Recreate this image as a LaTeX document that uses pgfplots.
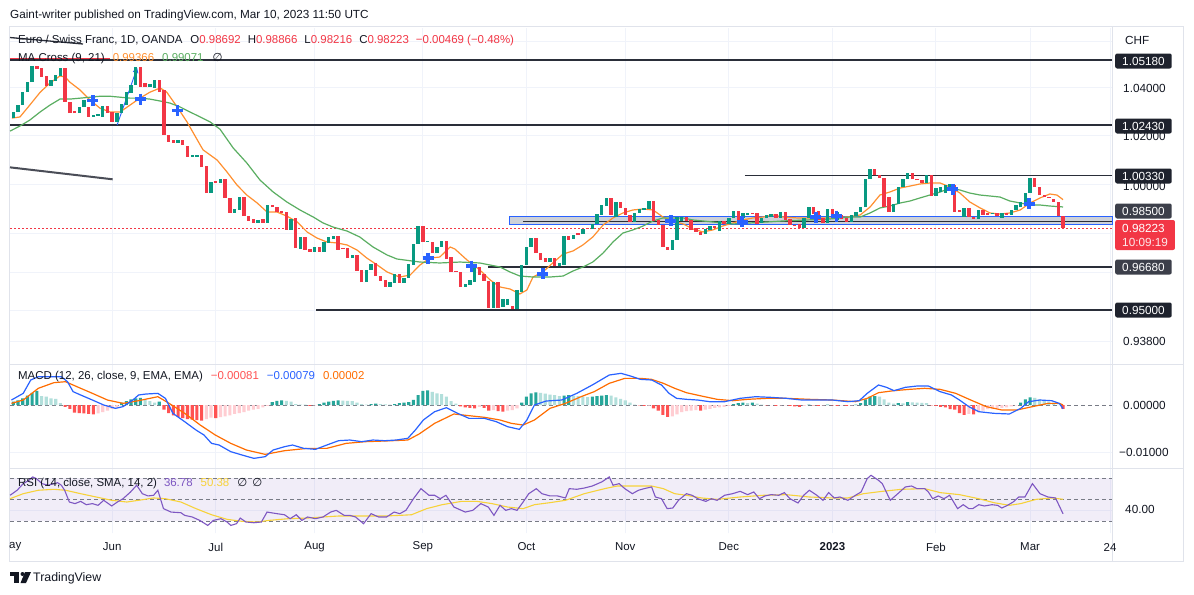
\documentclass[border=0pt]{standalone}
\usepackage{pgfplots}
\pgfplotsset{compat=1.18}
\usepackage{pgfplotstable}
\usepackage{fontspec}
\setmainfont{Liberation Sans}
\newfontfamily\dejavu{DejaVu Sans}
\usetikzlibrary{arrows.meta}
\definecolor{tvgreen}{HTML}{089981}
\definecolor{tvred}{HTML}{F23645}
\definecolor{tvblue}{HTML}{2962FF}
\definecolor{maor}{HTML}{FF9030}
\definecolor{magr}{HTML}{5AAE61}
\definecolor{txt}{HTML}{131722}
\definecolor{gridc}{HTML}{F0F3FA}
\definecolor{border}{HTML}{E0E3EB}
\definecolor{lblA}{HTML}{1E222D}
\definecolor{lblB}{HTML}{3C3F4A}
\definecolor{sig}{HTML}{FF6D00}
\definecolor{hdg}{HTML}{26A69A}
\definecolor{hlg}{HTML}{B2DFDB}
\definecolor{hdr}{HTML}{FF5252}
\definecolor{hlr}{HTML}{FFCDD2}
\definecolor{rsic}{HTML}{7E57C2}
\definecolor{rsima}{HTML}{F7D23A}
\definecolor{dashc}{HTML}{787B86}
\definecolor{zone}{HTML}{CDD1D8}
\definecolor{hlc}{HTML}{2A2E39}
\newcommand\fs{\fontsize{11.5}{13}\selectfont}
\newcommand\fb{\fontsize{11.8}{14}\selectfont}

\pgfplotstableread{
i o c
-21 1.0272 1.0298
-20 1.0298 1.0327
-19 1.0327 1.0381
-18 1.0381 1.0424
-17 1.0424 1.0492
-13 1.0407 1.0433
-12 1.0429 1.0454
-11 1.0450 1.0484
-7 1.0293 1.0319
-6 1.0319 1.0348
-4 1.0277 1.0285
-3 1.0281 1.0289
-2 1.0277 1.0323
1 1.0256 1.0293
2 1.0293 1.0331
3 1.0327 1.0381
4 1.0377 1.0411
5 1.0411 1.0488
8 1.0403 1.0416
9 1.0399 1.0433
14 1.0169 1.0181
17 1.0111 1.0119
18 1.0111 1.0119
21 0.99635 1.0008
23 1.0004 1.0020
26 0.98827 0.98988
27 0.98948 0.99474
31 0.98426 0.98546
33 0.98426 0.99150
38 0.98145 0.98586
40 0.97390 0.97866
43 0.97271 0.97469
45 0.97271 0.97668
46 0.97628 0.97866
47 0.97787 0.97906
51 0.97032 0.97151
54 0.96089 0.96560
55 0.96560 0.96796
59 0.95894 0.96089
60 0.96050 0.96403
62 0.96050 0.96246
63 0.96246 0.96796
64 0.96757 0.97588
65 0.97588 0.98305
67 0.97668 0.97707
69 0.97231 0.97469
70 0.97469 0.97707
75 0.95894 0.96011
76 0.95972 0.96167
77 0.96089 0.96678
81 0.95078 0.96089
83 0.95116 0.95427
84 0.95194 0.95427
86 0.95039 0.95777
87 0.95699 0.96757
88 0.96757 0.97469
89 0.97469 0.97827
93 0.96874 0.97032
95 0.96717 0.96835
96 0.96757 0.97906
98 0.97787 0.97946
100 0.97986 0.98185
102 0.98185 0.98386
103 0.98386 0.98787
104 0.98747 0.99150
105 0.99110 0.99433
107 0.98667 0.99271
111 0.98466 0.98827
112 0.98827 0.98988
113 0.98948 0.99029
114 0.98988 0.99312
119 0.97350 0.97747
120 0.97747 0.98667
121 0.98506 0.98667
126 0.97986 0.98185
127 0.98145 0.98305
129 0.98105 0.98506
131 0.98386 0.98626
132 0.98626 0.98908
134 0.98626 0.98827
135 0.98747 0.98827
138 0.98426 0.98626
139 0.98626 0.98747
140 0.98667 0.98787
142 0.98626 0.98867
147 0.98225 0.98626
148 0.98626 0.99069
152 0.98426 0.98988
154 0.98546 0.98867
157 0.98466 0.98747
158 0.98707 0.98867
159 0.98867 0.99069
160 0.99069 1.0020
161 1.0020 1.0061
166 0.98867 0.99190
167 0.99190 0.99879
168 0.99879 1.0020
169 1.0020 1.0045
173 1.0004 1.0036
175 0.99514 0.99838
176 0.99676 0.99879
177 0.99635 0.99960
178 0.99757 1.0000
181 0.98667 0.99029
184 0.98586 0.98948
187 0.98787 0.98827
189 0.98626 0.98827
191 0.98747 0.98948
192 0.98948 0.99150
193 0.99069 0.99271
194 0.99231 0.99635
195 0.99635 1.0024
}\candup

\pgfplotstableread{
i o c
-16 1.0492 1.0479
-15 1.0484 1.0446
-14 1.0450 1.0407
-10 1.0484 1.0340
-9 1.0340 1.0293
-8 1.0302 1.0293
-5 1.0319 1.0277
-1 1.0323 1.0293
0 1.0298 1.0256
6 1.0488 1.0403
7 1.0420 1.0403
10 1.0433 1.0381
11 1.0390 1.0201
12 1.0201 1.0173
13 1.0181 1.0169
15 1.0181 1.0160
16 1.0156 1.0111
19 1.0119 1.0069
20 1.0073 0.99635
22 1.0012 1.0004
24 1.0020 0.99433
25 0.99433 0.98827
28 0.99474 0.98707
29 0.98707 0.98506
30 0.98586 0.98426
32 0.98586 0.98426
34 0.99150 0.99069
35 0.99069 0.98867
36 0.98908 0.98827
37 0.98867 0.98145
39 0.98626 0.97429
41 0.97866 0.97350
42 0.97390 0.97271
44 0.97469 0.97271
48 0.97906 0.97350
49 0.97429 0.97390
50 0.97429 0.97032
52 0.97151 0.96521
53 0.96560 0.96089
56 0.96835 0.96324
57 0.96324 0.96128
58 0.96167 0.95894
61 0.96403 0.96050
66 0.98305 0.97668
68 0.97668 0.97231
71 0.97707 0.96993
72 0.97072 0.96482
73 0.96521 0.96482
74 0.96482 0.95894
78 0.96678 0.96364
79 0.96403 0.96128
80 0.96128 0.95078
82 0.96089 0.95078
85 0.95155 0.95039
90 0.97827 0.97231
91 0.97231 0.96953
92 0.97032 0.96874
94 0.97032 0.96717
97 0.97906 0.97747
99 0.98025 0.97946
101 0.98225 0.98185
106 0.99433 0.98747
108 0.99271 0.99029
109 0.99029 0.98747
110 0.98747 0.98466
115 0.99312 0.98506
116 0.98546 0.98345
117 0.98345 0.97469
118 0.97469 0.97350
122 0.98667 0.98506
123 0.98546 0.98145
124 0.98225 0.98066
125 0.98066 0.97946
128 0.98305 0.98225
130 0.98506 0.98386
133 0.98908 0.98466
136 0.98827 0.98787
137 0.98827 0.98386
141 0.98787 0.98626
143 0.98867 0.98546
144 0.98586 0.98345
145 0.98345 0.98305
146 0.98386 0.98225
149 0.99069 0.98787
150 0.98908 0.98546
151 0.98626 0.98426
153 0.98988 0.98667
155 0.98747 0.98586
156 0.98626 0.98466
162 1.0061 1.0036
163 1.0036 1.0024
164 1.0024 0.99069
165 0.99474 0.98867
170 1.0045 1.0020
171 1.0020 1.0016
172 1.0016 1.0004
174 1.0036 0.99514
179 0.99960 0.98867
180 0.98948 0.98867
182 0.99029 0.98667
183 0.98667 0.98586
185 0.98948 0.98747
186 0.98827 0.98747
188 0.98827 0.98707
190 0.98827 0.98747
196 1.0024 0.99879
197 0.99879 0.99554
198 0.99554 0.99474
199 0.99474 0.99433
200 0.99393 0.99271
201 0.99271 0.98707
202 0.98692 0.98223
}\canddn

\pgfplotsset{tvpane/.style={scale only axis, width=1102bp, xmin=-21.71, xmax=212.41,
  axis line style={draw=none}, major tick length=0pt, minor tick length=0pt,
  xtick={0,22,43,66,88,109,131,153,175,195,212}, xticklabels={}, yticklabels={},
  xmajorgrids, ymajorgrids, grid style={draw=gridc, line width=0.9bp},
  clip=false, anchor=north west},
  candle/.style={draw=none, mark=none, forget plot,
  error bars/.cd, y dir=plus, y explicit, error mark=none,
  error mark options={draw=none, fill=none, mark size=0pt},
  error bar style={draw=#1, line width=3.4bp}}}
\tikzset{hl/.style={draw=hlc, line width=1.2bp},
  pbox/.style={anchor=west, fill=#1, text=white, rounded corners=2bp, inner xsep=7bp, inner ysep=0pt, minimum height=15bp, font=\fb},
  ptxt/.style={anchor=west, inner sep=0pt, text=txt, font=\fb}}

\begin{document}
\begin{tikzpicture}
\fill[white] (0,0) rectangle (1194bp,-595bp);
\path[use as bounding box] (0,0) rectangle (1194bp,-595bp);
\draw[border, line width=1bp] (9bp,-26.5bp) rectangle (1183.5bp,-561bp);
\draw[border, line width=1bp] (9bp,-364.5bp) -- (1183.5bp,-364.5bp);
\draw[border, line width=1bp] (9bp,-468.5bp) -- (1183.5bp,-468.5bp);
\draw[border, line width=1bp] (1112bp,-26.5bp) -- (1112bp,-561bp);

% ---------------- price pane
\begin{axis}[tvpane, at={(10bp,-28bp)}, height=336bp, ymode=log, ymin=0.92934, ymax=1.0656,
  ytick={0.938,0.95,0.9645,0.98,1.00,1.02,1.04,1.06}]
\addplot[fill=zone, draw=tvblue, line width=0.9bp] coordinates {(84.5,0.98385) (212.41,0.98385) (212.41,0.98707) (84.5,0.98707)} -- cycle;
\addplot[tvred, dash pattern=on 1.5bp off 2.5bp, line width=1.1bp] coordinates {(-21.71,0.98223) (212.41,0.98223)};
\addplot[hl] coordinates {(-21.71,1.0518) (212.41,1.0518)};
\addplot[hl] coordinates {(-21.71,1.0243) (212.41,1.0243)};
\addplot[hl] coordinates {(134.4,1.0033) (212.41,1.0033)};
\addplot[hl] coordinates {(87.3,0.985) (212.41,0.985)};
\addplot[hl] coordinates {(79.8,0.9668) (212.41,0.9668)};
\addplot[hl] coordinates {(43.3,0.95) (212.41,0.95)};
\addplot[draw=hlc!85, line width=2bp] coordinates {(-21.71,1.0068) (0.1,1.0019)};
\addplot[draw=hlc, line width=1.3bp] coordinates {(-21.71,1.0615) (-6.2,1.0587)};
\addplot[tvred, line width=1bp] coordinates {(-21.71,1.0524) (-0.5,1.0524)};
\draw[tvblue, line width=0.9bp, -{Straight Barb[length=4bp,width=5bp]}] (axis cs:1.04,1.0243) -- (axis cs:5.3,1.0484);
% MA 9
\addplot[maor, line width=1.2bp, mark=none] coordinates {(-21.3,1.0272)(-19.6,1.0277)(-17.5,1.0327)(-15.3,1.0381)(-13.2,1.0420)(-11.1,1.0450)(-10.0,1.0446)(-9.0,1.0424)(-6.8,1.0390)(-4.7,1.0348)(-2.6,1.0314)(-0.5,1.0298)(1.7,1.0298)(3.8,1.0327)(5.9,1.0356)(8.0,1.0381)(10.2,1.0399)(11.6,1.0381)(13.8,1.0319)(15.9,1.0256)(18.7,1.0160)(19.3,1.0140)(22.3,1.0098)(24.4,1.0049)(26.5,0.99960)(28.6,0.99554)(30.8,0.99231)(32.9,0.98867)(35.0,0.98867)(37.1,0.98707)(39.3,0.98466)(41.4,0.98066)(43.5,0.97827)(45.6,0.97668)(47.8,0.97628)(49.9,0.97549)(52.0,0.97350)(54.1,0.97032)(56.3,0.96757)(58.4,0.96482)(60.5,0.96324)(61.1,0.96285)(63.3,0.96364)(65.4,0.96757)(67.5,0.97032)(69.6,0.97072)(71.8,0.97469)(72.8,0.97390)(75.4,0.96953)(78.1,0.96560)(80.3,0.96167)(82.4,0.95894)(84.5,0.95816)(86.6,0.95621)(88.1,0.95777)(89.4,0.96285)(91.5,0.96482)(93.6,0.96835)(95.8,0.97191)(97.9,0.97311)(100.0,0.97549)(102.1,0.97866)(104.3,0.98345)(106.4,0.98626)(108.5,0.98827)(110.6,0.98948)(112.8,0.98988)(114.9,0.98948)(117.0,0.98667)(119.1,0.98506)(121.3,0.98386)(123.4,0.98185)(125.5,0.98066)(127.6,0.98145)(129.7,0.98305)(131.9,0.98426)(134.0,0.98546)(136.1,0.98626)(138.3,0.98667)(140.4,0.98747)(142.5,0.98667)(145.5,0.98626)(152.5,0.98626)(156.1,0.98667)(158.9,0.98747)(161.0,0.99069)(163.1,0.99554)(165.2,0.99676)(167.4,0.99838)(169.5,0.99919)(171.6,1.0000)(173.7,1.0004)(175.9,1.0004)(178.0,0.99879)(180.1,0.99635)(182.2,0.99271)(184.4,0.99029)(186.5,0.98827)(188.6,0.98787)(190.7,0.98827)(192.9,0.98948)(195.0,0.99231)(197.1,0.99433)(199.2,0.99595)(200.7,0.99554)(202.0,0.99366)};
% MA 21
\addplot[magr, line width=1.2bp, mark=none] coordinates {(-21.7,1.0218)(-19.6,1.0239)(-17.5,1.0264)(-15.3,1.0298)(-13.2,1.0327)(-11.1,1.0352)(-9.0,1.0352)(-6.8,1.0356)(-4.7,1.0360)(-2.6,1.0364)(-0.5,1.0364)(1.7,1.0360)(3.8,1.0356)(5.9,1.0356)(8.0,1.0352)(10.2,1.0344)(12.3,1.0335)(14.4,1.0319)(16.5,1.0298)(18.7,1.0277)(20.8,1.0256)(22.9,1.0226)(25.7,1.0148)(28.6,1.0086)(31.4,1.0016)(34.2,0.99676)(37.1,0.99271)(39.9,0.98948)(42.7,0.98667)(44.8,0.98426)(46.9,0.98265)(49.9,0.98105)(52.6,0.97866)(55.4,0.97469)(58.4,0.97151)(60.5,0.96993)(65.4,0.96874)(69.6,0.96835)(73.9,0.96874)(78.1,0.96835)(82.4,0.96678)(84.5,0.96482)(86.6,0.96324)(89.4,0.96285)(93.0,0.96285)(95.8,0.96324)(97.9,0.96521)(100.0,0.96678)(102.1,0.96874)(104.3,0.97231)(106.4,0.97668)(108.5,0.98025)(110.6,0.98145)(112.8,0.98305)(114.9,0.98506)(117.0,0.98626)(121.3,0.98626)(123.4,0.98546)(125.5,0.98506)(127.6,0.98466)(129.7,0.98426)(131.9,0.98386)(135.5,0.98426)(139.1,0.98466)(142.5,0.98506)(152.5,0.98586)(156.7,0.98667)(158.9,0.98667)(161.0,0.98827)(163.1,0.99029)(165.2,0.99110)(167.4,0.99231)(169.5,0.99312)(171.6,0.99433)(173.7,0.99554)(175.9,0.99676)(178.0,0.99838)(180.1,0.99757)(182.2,0.99635)(184.4,0.99554)(186.5,0.99514)(188.6,0.99474)(190.7,0.99312)(192.9,0.99231)(195.0,0.99150)(197.1,0.99150)(199.2,0.99110)(202.0,0.99071)};
% candles
\addplot[candle=tvgreen] table[x=i, y=o, y error expr=\thisrow{c}-\thisrow{o}] {\candup};
\addplot[candle=tvred] table[x=i, y=c, y error expr=\thisrow{o}-\thisrow{c}] {\canddn};
% MA cross markers
\addplot[only marks, mark=+, mark size=5.5bp, mark options={draw=tvblue, line width=3.3bp}] coordinates {(-4.1,1.0345)(6.05,1.0352)(13.9,1.0303)(67.1,0.97032)(76.4,0.96717)(91.5,0.96403)(118.7,0.98506)(133.8,0.98466)(149.5,0.98667)(153.8,0.98707)(178.6,0.99797)(194.8,0.99190)};
\end{axis}

% ---------------- MACD pane
\begin{axis}[tvpane, at={(10bp,-365bp)}, height=103bp, ymin=-0.0134, ymax=0.00851, ytick={-0.01}, scaled y ticks=false]
\addplot[dashc, dash pattern=on 4bp off 3bp, line width=0.9bp] coordinates {(-21.71,0) (212.41,0)};
\addplot[ybar, bar width=3.1bp, bar shift=0pt, fill=hdg, draw=none] coordinates {(-21,0.0007)(-20,0.0010)(-19,0.0014)(-18,0.0020)(-17,0.0026)(-16,0.0030)(2,0.0005)(3,0.0008)(4,0.0012)(5,0.0014)(6,0.0015)(10,0.0007)(34,0.0006)(35,0.0009)(36,0.0010)(44,0.0002)(45,0.0005)(46,0.0007)(47,0.0009)(48,0.0010)(55,0.0002)(56,0.0003)(60,0.0002)(61,0.0004)(62,0.0005)(63,0.0006)(64,0.0011)(65,0.0021)(66,0.0030)(67,0.0031)(87,0.0005)(88,0.0018)(89,0.0025)(90,0.0027)(96,0.0020)(97,0.0021)(102,0.0018)(103,0.0019)(104,0.0020)(105,0.0021)(132,0.0002)(133,0.0004)(134,0.0005)(136,0.0005)(148,0.0001)(152,0.0001)(158,0.0001)(159,0.0004)(160,0.0012)(161,0.0018)(162,0.0019)(167,0.0004)(169,0.0006)(193,0.0005)(194,0.0012)(195,0.0016)};
\addplot[ybar, bar width=3.1bp, bar shift=0pt, fill=hlg, draw=none] coordinates {(-15,0.0019)(-14,0.0018)(-13,0.0014)(-12,0.0013)(-11,0.0004)(7,0.0011)(8,0.0008)(9,0.0005)(37,0.0009)(38,0.0007)(39,0.0002)(40,0.0001)(41,0.0001)(49,0.00095)(50,0.0009)(51,0.0008)(52,0.0005)(53,0.0002)(54,0.0001)(57,0.0002)(58,0.00015)(59,0.0001)(68,0.0028)(69,0.0025)(70,0.0023)(71,0.0018)(72,0.0008)(73,0.0003)(91,0.0026)(92,0.0024)(93,0.0022)(94,0.0021)(95,0.0019)(98,0.0020)(99,0.0019)(100,0.0018)(101,0.0017)(106,0.0020)(107,0.0016)(108,0.0013)(109,0.0010)(110,0.0005)(111,0.0001)(135,0.0004)(137,0.0003)(138,0.0001)(163,0.0018)(164,0.0012)(165,0.0005)(166,0.0003)(168,0.00035)(170,0.00055)(171,0.0005)(172,0.00045)(173,0.0004)(196,0.0015)(197,0.0012)(198,0.0009)(199,0.0007)(200,0.0005)(201,0.0001)};
\addplot[ybar, bar width=3.1bp, bar shift=0pt, fill=hdr, draw=none] coordinates {(-10,-0.0004)(-9,-0.0008)(-8,-0.0016)(-7,-0.0017)(-6,-0.0018)(-5,-0.0019)(-4,-0.0020)(11,-0.0010)(12,-0.0017)(13,-0.0022)(14,-0.0025)(15,-0.0028)(16,-0.0030)(17,-0.0031)(18,-0.0032)(19,-0.0033)(22,-0.0028)(42,-0.0002)(74,-0.0003)(75,-0.0005)(76,-0.0006)(77,-0.0007)(79,-0.0006)(80,-0.0012)(82,-0.0013)(83,-0.0014)(112,-0.0001)(113,-0.0002)(115,-0.0007)(116,-0.0012)(117,-0.0021)(118,-0.0025)(125,-0.0012)(139,-0.0001)(141,-0.0002)(144,-0.0002)(145,-0.0003)(146,-0.0004)(149,-0.0001)(150,-0.0002)(153,-0.0001)(154,-0.0002)(156,-0.0002)(174,-0.0001)(175,-0.0002)(176,-0.0004)(177,-0.0005)(178,-0.0009)(179,-0.0010)(180,-0.0017)(181,-0.0021)(183,-0.0020)(202,-0.00081)};
\addplot[ybar, bar width=3.1bp, bar shift=0pt, fill=hlr, draw=none] coordinates {(-3,-0.0018)(-2,-0.0015)(-1,-0.0012)(0,-0.0008)(1,-0.0005)(20,-0.0030)(21,-0.0027)(23,-0.0026)(24,-0.0024)(25,-0.0022)(26,-0.0019)(27,-0.0017)(28,-0.0015)(29,-0.0012)(30,-0.0010)(31,-0.0008)(32,-0.0005)(33,-0.0002)(43,-0.0001)(78,-0.0004)(81,-0.0011)(84,-0.0012)(85,-0.0011)(86,-0.0007)(114,-0.00015)(119,-0.0024)(120,-0.0020)(121,-0.0015)(122,-0.0013)(123,-0.0012)(124,-0.0011)(126,-0.0010)(127,-0.0008)(128,-0.0006)(129,-0.0005)(130,-0.0004)(131,-0.0002)(140,-0.00005)(142,-0.0001)(143,-0.00008)(147,-0.0002)(151,-0.0001)(155,-0.0001)(157,-0.0001)(182,-0.0019)(184,-0.0015)(185,-0.0012)(186,-0.0009)(187,-0.00085)(188,-0.0007)(189,-0.0006)(190,-0.0005)(191,-0.0003)(192,-0.0001)};
\addplot[sig, line width=1.2bp, mark=none] coordinates {(-21.4,0.00035)(-18.9,0.00106)(-15.7,0.00355)(-12.4,0.00475)(-9.9,0.00496)(-7.5,0.00390)(-4.2,0.00248)(-1.0,0.00106)(2.3,0.00035)(5.6,0.00092)(9.7,0.00177)(12.1,0.00035)(15.4,-0.00177)(18.7,-0.00426)(21.9,-0.00638)(25.2,-0.00816)(28.5,-0.00957)(32.5,-0.01050)(36.6,-0.00972)(41.5,-0.00922)(45.6,-0.00922)(49.7,-0.00816)(53.8,-0.00780)(57.9,-0.00766)(62.8,-0.00745)(65.2,-0.00617)(68.5,-0.00390)(72.6,-0.00191)(75.8,-0.00227)(79.1,-0.00262)(82.4,-0.00319)(84.8,-0.00390)(87.3,-0.00426)(89.7,-0.00319)(93.0,-0.00071)(96.3,0.00035)(99.6,0.00177)(102.4,0.00284)(105.6,0.00461)(108.9,0.00567)(112.2,0.00567)(114.6,0.00546)(117.1,0.00461)(119.5,0.00355)(122.0,0.00262)(125.2,0.00191)(128.5,0.00121)(131.8,0.00092)(135.0,0.00121)(139.1,0.00142)(143.2,0.00142)(148.1,0.00121)(153.0,0.00106)(157.9,0.00071)(160.4,0.00142)(162.8,0.00262)(166.1,0.00305)(169.4,0.00333)(172.6,0.00355)(175.9,0.00333)(179.2,0.00248)(182.4,0.00106)(185.7,-0.00035)(189.0,-0.00106)(192.2,-0.00106)(195.5,-0.00035)(198.8,0.00035)(201.2,0.00035)(202.0,0.00002)};
\addplot[tvblue, line width=1.2bp, mark=none] coordinates {(-21.4,0.00106)(-18.9,0.00248)(-17.3,0.00532)(-15.7,0.00602)(-13.2,0.00602)(-10.8,0.00602)(-9.5,0.00496)(-8.3,0.00284)(-6.7,0.00213)(-4.2,0.00106)(-1.8,0.0)(0.7,-0.00071)(2.3,-0.00035)(4.4,0.00106)(5.6,0.00213)(7.2,0.00234)(9.7,0.00248)(11.3,0.00142)(12.9,-0.00177)(15.4,-0.00355)(17.8,-0.00532)(19.5,-0.00638)(21.1,-0.00816)(22.7,-0.00851)(25.2,-0.00993)(27.6,-0.01064)(30.1,-0.01135)(32.5,-0.01099)(34.2,-0.00957)(36.6,-0.00887)(38.3,-0.00851)(40.7,-0.00922)(43.2,-0.00943)(45.6,-0.00851)(48.1,-0.00759)(50.5,-0.00745)(53.0,-0.00780)(55.4,-0.00745)(57.9,-0.00759)(60.3,-0.00745)(62.8,-0.00709)(64.4,-0.00532)(66.1,-0.00319)(68.5,-0.00142)(71.0,-0.00057)(73.4,-0.00177)(75.8,-0.00284)(79.1,-0.00284)(81.6,-0.00355)(84.0,-0.00461)(86.5,-0.00518)(88.1,-0.00319)(89.7,0.0)(92.2,0.00085)(95.5,0.00106)(98.7,0.00248)(102.0,0.00426)(105.6,0.00638)(108.1,0.00674)(110.1,0.00617)(112.2,0.00546)(114.6,0.00532)(116.7,0.00426)(118.3,0.00248)(119.9,0.00142)(122.0,0.00121)(124.4,0.00106)(126.9,0.00071)(130.1,0.00071)(133.4,0.00142)(136.7,0.00177)(139.9,0.00163)(143.2,0.00142)(146.5,0.00106)(149.7,0.00106)(153.0,0.00106)(156.3,0.00071)(158.7,0.00092)(160.4,0.00248)(162.8,0.00426)(164.5,0.00376)(166.1,0.00305)(168.5,0.00376)(171.0,0.00404)(173.4,0.00404)(175.9,0.00284)(178.3,0.00213)(180.0,0.00106)(182.0,-0.00035)(184.1,-0.00142)(187.3,-0.00177)(190.6,-0.00191)(193.0,-0.00071)(194.7,0.00071)(197.1,0.00106)(199.6,0.00092)(201.2,0.00035)(202.0,-0.00079)};
\end{axis}

% ---------------- RSI pane
\begin{axis}[tvpane, at={(10bp,-469bp)}, height=64bp, ymin=18.8, ymax=78.7, ytick={40},
  xticklabels={Jun,Jul,Aug,Sep,Oct,Nov,Dec,\textbf{2023},Feb,Mar,24},
  xticklabel style={font=\fs, text=txt, anchor=center, inner sep=0pt, yshift=-14bp}]
\fill[rsic, fill opacity=0.1] (axis cs:-21.71,30) rectangle (axis cs:212.41,70);
\addplot[dashc, dash pattern=on 4bp off 3bp, line width=0.9bp] coordinates {(-21.71,70) (212.41,70)};
\addplot[dashc, dash pattern=on 4bp off 3bp, line width=0.9bp] coordinates {(-21.71,50) (212.41,50)};
\addplot[dashc, dash pattern=on 4bp off 3bp, line width=0.9bp] coordinates {(-21.71,30) (212.41,30)};
\addplot[rsima, line width=1.1bp, mark=none] coordinates {(-21.7,50.9)(-18.9,55.6)(-15.7,58.8)(-12.4,59.7)(-9.9,58.8)(-6.7,55.6)(-3.4,52.5)(-0.1,49.4)(3.1,47.8)(5.6,49.4)(8.8,51.6)(11.3,50.9)(14.6,47.8)(17.8,41.6)(21.1,35.9)(24.4,31.6)(27.6,29.7)(30.9,29.1)(33.3,30.6)(37.4,32.2)(41.5,32.8)(44.8,33.8)(48.1,34.7)(53.0,34.7)(57.9,34.7)(61.1,35.3)(63.6,35.9)(66.8,41.6)(70.1,45.3)(74.2,48.4)(77.5,48.4)(80.7,46.3)(84.0,43.1)(87.3,41.6)(89.7,45.3)(93.0,47.2)(96.3,49.4)(100.3,55.6)(104.8,60.5)(107.3,62.8)(110.5,62.8)(114.6,62.8)(117.1,60.3)(119.5,55.6)(122.0,54.1)(125.2,51.6)(128.5,50.3)(133.4,52.5)(138.3,54.1)(143.2,54.7)(148.1,52.5)(153.0,51.6)(156.3,51.6)(159.6,55.6)(163.6,57.8)(167.7,59.7)(172.6,60.3)(175.9,56.6)(180.0,54.7)(184.1,50.9)(187.3,47.2)(190.6,44.7)(193.0,46.3)(196.3,50.3)(199.6,51.6)(202.0,50.38)};
\addplot[rsic, line width=1.1bp, mark=none] coordinates {(-21.7,54.1)(-20.2,58.8)(-18.9,65.0)(-17.7,68.1)(-16.9,71.3)(-16.1,69.7)(-14.9,65.0)(-13.6,63.5)(-12.4,65.0)(-11.6,65.9)(-10.8,63.5)(-10.1,58.8)(-9.1,47.8)(-7.9,46.3)(-6.7,48.4)(-5.5,45.3)(-4.2,46.3)(-3.0,44.7)(-1.8,49.4)(-0.1,44.1)(1.1,47.8)(2.3,50.9)(3.9,57.2)(5.2,63.5)(6.4,55.6)(7.6,53.5)(8.8,54.1)(9.7,58.8)(10.9,41.6)(12.5,38.4)(14.6,37.8)(15.4,35.3)(17.0,33.8)(18.6,30.6)(20.3,25.9)(21.5,30.6)(23.1,32.2)(24.4,29.1)(25.2,25.9)(26.4,27.5)(27.2,32.8)(28.4,29.1)(30.1,28.4)(31.7,29.1)(32.9,38.4)(35.0,36.9)(36.6,35.9)(37.8,32.2)(39.1,35.9)(40.3,30.6)(41.5,33.8)(43.2,32.2)(44.8,33.8)(46.4,38.4)(47.6,40.0)(49.3,35.3)(50.5,35.3)(51.7,33.8)(53.4,27.5)(55.0,36.9)(56.6,33.8)(58.3,33.8)(59.9,38.4)(61.1,36.9)(62.4,40.0)(64.0,50.9)(65.6,60.3)(67.3,54.1)(68.5,54.1)(69.7,50.9)(70.9,54.1)(72.6,43.1)(75.0,38.4)(76.6,40.0)(78.3,46.3)(79.9,43.1)(81.1,35.3)(82.4,44.7)(83.6,40.0)(84.8,41.6)(86.0,40.0)(87.3,47.8)(88.5,55.6)(90.1,60.3)(91.3,55.6)(93.0,53.5)(94.6,53.5)(96.3,51.6)(97.1,60.3)(98.7,59.7)(100.3,60.9)(102.0,62.8)(104.0,66.6)(105.6,71.3)(106.4,63.5)(107.7,65.0)(108.9,60.3)(110.5,55.6)(111.8,58.8)(113.0,60.3)(114.6,61.9)(115.4,52.5)(116.7,50.9)(117.9,41.6)(119.1,42.2)(120.3,49.4)(122.0,55.6)(123.2,54.1)(124.4,50.9)(126.1,48.4)(127.3,50.9)(128.5,49.4)(130.1,54.1)(131.8,55.6)(133.4,57.8)(135.0,54.7)(136.3,57.2)(137.5,50.9)(138.7,53.5)(140.0,54.7)(141.6,54.1)(142.8,56.6)(144.0,50.9)(145.7,46.9)(146.9,54.1)(148.1,58.8)(149.7,54.1)(151.0,49.4)(152.2,56.6)(153.4,51.6)(154.6,52.5)(156.3,49.4)(157.9,54.1)(159.1,57.2)(160.4,69.7)(161.2,72.8)(162.8,68.1)(163.6,65.0)(165.3,49.4)(166.9,55.6)(168.5,61.9)(169.8,62.8)(171.0,60.3)(172.6,60.3)(173.4,57.2)(174.3,50.9)(175.5,53.5)(176.7,50.9)(177.9,54.1)(179.6,41.6)(180.8,45.3)(182.0,41.6)(182.8,41.6)(184.1,45.3)(185.3,44.1)(186.9,45.3)(188.1,44.7)(189.0,42.2)(190.2,44.7)(191.4,47.8)(192.6,52.5)(193.9,52.5)(195.5,65.0)(197.1,55.6)(198.8,52.5)(200.4,51.6)(202.0,36.78)};
\end{axis}

% ---------------- texts
\node[ptxt] at (10bp,-15bp) {Gaint-writer published on TradingView.com, Mar 10, 2023 11:50 UTC};
\node[anchor=west, inner sep=0pt, font=\fs, text=txt] at (18bp,-41bp) {Euro / Swiss Franc, 1D, OANDA\hspace{8bp}O\textcolor{tvred}{0.98692}\hspace{7bp}H\textcolor{tvred}{0.98866}\hspace{7bp}L\textcolor{tvred}{0.98216}\hspace{7bp}C\textcolor{tvred}{0.98223}\hspace{7bp}\textcolor{tvred}{−0.00469 (−0.48\%)}};
\node[anchor=west, inner sep=0pt, font=\fs, text=txt] at (18bp,-59bp) {MA Cross (9, 21)\hspace{8bp}\textcolor{maor}{0.99366}\hspace{8bp}\textcolor{magr}{0.99071}\hspace{9bp}{\dejavu ∅}};
\node[anchor=west, inner sep=0pt, font=\fs, text=txt] at (18bp,-377bp) {MACD (12, 26, close, 9, EMA, EMA)\hspace{8bp}\textcolor{hdr}{−0.00081}\hspace{8bp}\textcolor{tvblue}{−0.00079}\hspace{8bp}\textcolor{sig}{0.00002}};
\node[anchor=west, inner sep=0pt, font=\fs, text=txt] at (18bp,-484bp) {RSI (14, close, SMA, 14, 2)\hspace{7bp}\textcolor{rsic}{36.78}\hspace{8bp}\textcolor{rsima}{50.38}\hspace{8bp}{\dejavu ∅\hspace{5bp}∅}};
\node[anchor=west, inner sep=0pt, font=\fs, text=txt] at (9bp,-547bp) {ay};

% right scale
\node[ptxt] at (1125bp,-40bp) {CHF};
\node[ptxt] at (1123bp,-88bp) {1.04000};
\node[ptxt] at (1123bp,-136bp) {1.02000};
\node[ptxt] at (1123bp,-186bp) {1.00000};
\node[ptxt] at (1123bp,-341bp) {0.93800};
\node[pbox=lblA] at (1115bp,-61bp) {1.05180};
\node[pbox=lblA] at (1115bp,-126bp) {1.02430};
\node[pbox=lblA] at (1115bp,-176bp) {1.00330};
\node[pbox=lblB] at (1115bp,-211bp) {0.98500};
\node[pbox=tvred, align=left, inner ysep=1.5bp, minimum height=30bp] at (1115bp,-235bp) {0.98223\\\textcolor{white!88!tvred}{10:09:19}};
\node[pbox=lblB] at (1115bp,-267bp) {0.96680};
\node[pbox=lblA] at (1115bp,-310bp) {0.95000};
\node[ptxt] at (1123bp,-405bp) {0.00000};
\node[ptxt] at (1119bp,-452bp) {−0.01000};
\node[ptxt] at (1125bp,-509bp) {40.00};

% logo
\fill[txt] (10bp,-572bp) rectangle (19bp,-576bp);
\fill[txt] (14bp,-576bp) rectangle (19bp,-583bp);
\fill[txt] (22.5bp,-574bp) circle (2bp);
\fill[txt] (25bp,-572bp) -- (31bp,-572bp) -- (26bp,-583bp) -- (20.5bp,-583bp) -- cycle;
\node[anchor=west, inner sep=0pt, font=\fontsize{12.4}{14}\selectfont, text=txt] at (33bp,-578bp) {TradingView};
\end{tikzpicture}
\end{document}
